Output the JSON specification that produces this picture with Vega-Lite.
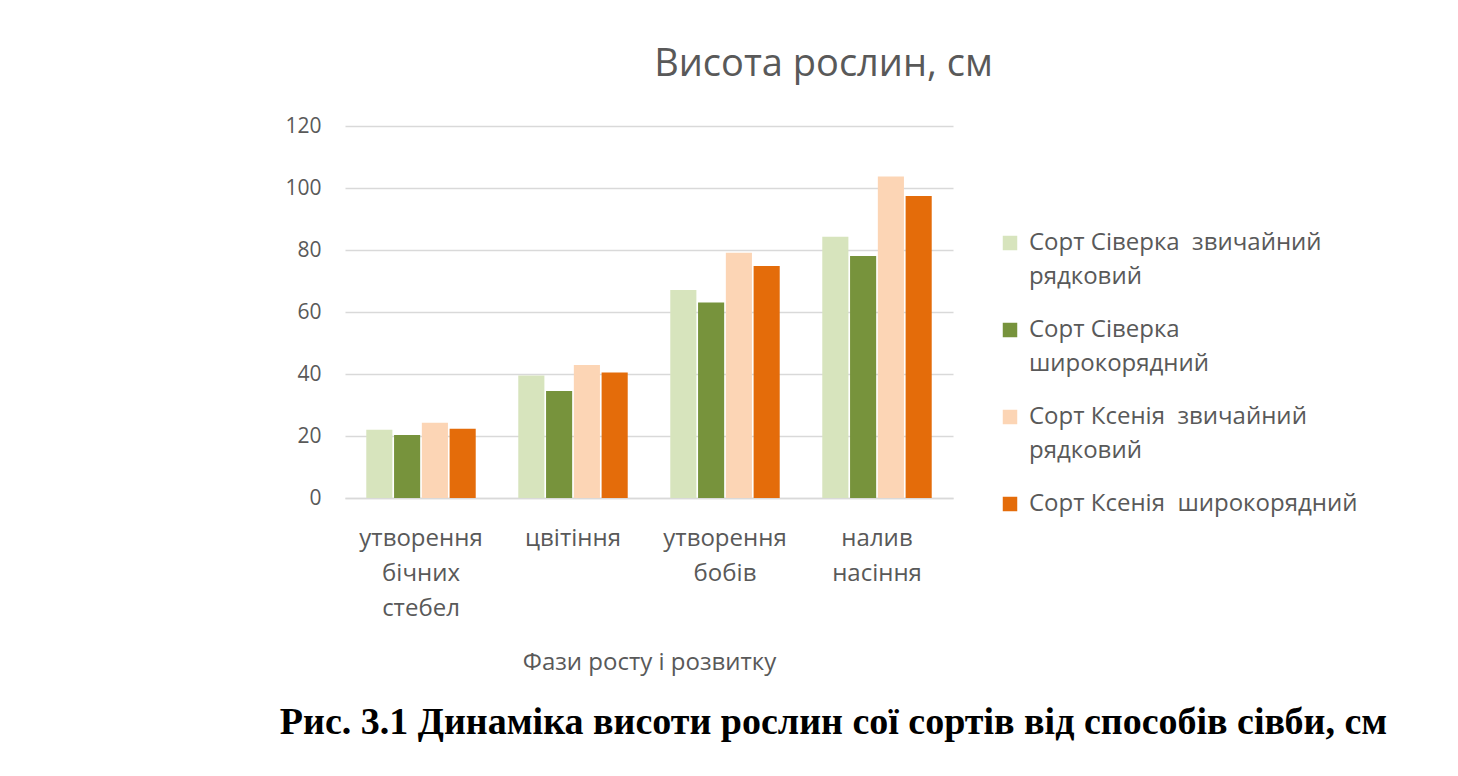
{
  "$schema": "https://vega.github.io/schema/vega-lite/v6.json",
  "background": "white",
  "padding": {"left": 279, "top": 46, "right": 10, "bottom": 10},
  "title": {
    "text": "Рис. 3.1 Динаміка висоти рослин сої сортів від способів сівби, см",
    "orient": "bottom",
    "anchor": "middle",
    "frame": "bounds",
    "font": "Liberation Serif",
    "fontSize": 38,
    "fontWeight": "bold",
    "color": "#000000",
    "offset": 30,
    "dx": 12
  },
  "config": {
    "view": {"stroke": null},
    "font": "Open Sans"
  },
  "resolve": {"legend": {"color": "independent"}, "scale": {"color": "independent"}},
  "vconcat": [
    {
      "width": 608,
      "height": 372,
      "title": {
        "text": "Висота рослин, см",
        "anchor": "middle",
        "frame": "bounds",
        "font": "Open Sans",
        "fontSize": 38,
        "fontWeight": "normal",
        "color": "#595959",
        "offset": 31,
        "dx": 2
      },
      "data": {
        "values": [
          {"phase": "утворення бічних стебел", "series": "Сорт Сіверка звичайний рядковий", "height": 22},
          {"phase": "утворення бічних стебел", "series": "Сорт Сіверка широкорядний", "height": 20.3},
          {"phase": "утворення бічних стебел", "series": "Сорт Ксенія звичайний рядковий", "height": 24.3},
          {"phase": "утворення бічних стебел", "series": "Сорт Ксенія широкорядний", "height": 22.3},
          {"phase": "цвітіння", "series": "Сорт Сіверка звичайний рядковий", "height": 39.5},
          {"phase": "цвітіння", "series": "Сорт Сіверка широкорядний", "height": 34.5},
          {"phase": "цвітіння", "series": "Сорт Ксенія звичайний рядковий", "height": 42.9},
          {"phase": "цвітіння", "series": "Сорт Ксенія широкорядний", "height": 40.5},
          {"phase": "утворення бобів", "series": "Сорт Сіверка звичайний рядковий", "height": 67.1},
          {"phase": "утворення бобів", "series": "Сорт Сіверка широкорядний", "height": 63.1},
          {"phase": "утворення бобів", "series": "Сорт Ксенія звичайний рядковий", "height": 79.1},
          {"phase": "утворення бобів", "series": "Сорт Ксенія широкорядний", "height": 74.8},
          {"phase": "налив насіння", "series": "Сорт Сіверка звичайний рядковий", "height": 84.3},
          {"phase": "налив насіння", "series": "Сорт Сіверка широкорядний", "height": 78.1},
          {"phase": "налив насіння", "series": "Сорт Ксенія звичайний рядковий", "height": 103.7},
          {"phase": "налив насіння", "series": "Сорт Ксенія широкорядний", "height": 97.4}
        ]
      },
      "mark": {"type": "bar"},
      "encoding": {
        "x": {
          "field": "phase",
          "type": "nominal",
          "sort": ["утворення бічних стебел", "цвітіння", "утворення бобів", "налив насіння"],
          "scale": {"paddingInner": 0.28, "paddingOuter": 0.14},
          "axis": {
            "title": "Фази росту і розвитку",
            "titleFont": "Open Sans",
            "titleFontSize": 24,
            "titleFontWeight": "normal",
            "titleColor": "#595959",
            "titlePadding": 30,
            "labelAngle": 0,
            "labelExpr": "split(datum.label, ' ')",
            "labelFont": "Open Sans",
            "labelFontSize": 24,
            "labelColor": "#595959",
            "labelLineHeight": 35,
            "labelPadding": 28,
            "labelBaseline": "top",
            "domainColor": "#D9D9D9",
            "domainWidth": 1.5,
            "ticks": false
          }
        },
        "xOffset": {
          "field": "series",
          "type": "nominal",
          "sort": ["Сорт Сіверка звичайний рядковий", "Сорт Сіверка широкорядний", "Сорт Ксенія звичайний рядковий", "Сорт Ксенія широкорядний"],
          "scale": {"paddingInner": 0.06}
        },
        "y": {
          "field": "height",
          "type": "quantitative",
          "scale": {"domain": [0, 120]},
          "axis": {
            "title": null,
            "values": [0, 20, 40, 60, 80, 100, 120],
            "domain": false,
            "ticks": false,
            "gridColor": "#D9D9D9",
            "gridWidth": 1.5,
            "labelFont": "Open Sans",
            "labelFontSize": 21,
            "labelColor": "#595959",
            "labelPadding": 24
          }
        },
        "color": {
          "field": "series",
          "type": "nominal",
          "scale": {
            "domain": ["Сорт Сіверка звичайний рядковий", "Сорт Сіверка широкорядний", "Сорт Ксенія звичайний рядковий", "Сорт Ксенія широкорядний"],
            "range": ["#D7E4BD", "#77933C", "#FCD5B5", "#E46C0A"]
          },
          "legend": {
            "title": null,
            "orient": "none",
            "legendX": 653,
            "legendY": 105,
            "symbolType": "square",
            "symbolSize": 210,
            "symbolStrokeWidth": 0,
            "labelFont": "Open Sans",
            "labelFontSize": 24,
            "labelColor": "#595959",
            "labelLimit": 500,
            "labelOffset": 7,
            "rowPadding": 29,
            "encode": {"labels": {"update": {"lineHeight": {"value": 34}}}},
            "labelExpr": "datum.label == 'Сорт Сіверка звичайний рядковий' ? ['Сорт Сіверка\u00a0 звичайний', 'рядковий'] : datum.label == 'Сорт Сіверка широкорядний' ? ['Сорт Сіверка', 'широкорядний'] : datum.label == 'Сорт Ксенія звичайний рядковий' ? ['Сорт Ксенія\u00a0 звичайний', 'рядковий'] : 'Сорт Ксенія\u00a0 широкорядний'"
          }
        }
      }
    }
  ]
}
